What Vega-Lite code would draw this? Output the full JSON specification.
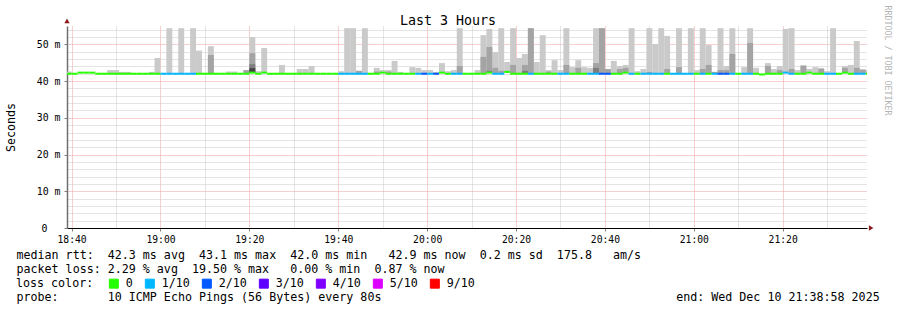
{
  "$schema": "https://vega.github.io/schema/vega-lite/v6.json",
  "width": 800,
  "height": 202,
  "autosize": "none",
  "padding": {"left": 67, "top": 26, "right": 30, "bottom": 82},
  "background": "white",
  "title": {"text": "Last 3 Hours", "font": "DejaVu Sans Mono", "fontSize": 13.3, "fontWeight": "normal", "color": "black", "anchor": "middle", "frame": "group", "offset": 4, "dx": -19, "dy": 26},
  "config": {"view": {"stroke": null}, "font": "DejaVu Sans Mono"},
  "resolve": {"axis": {"y": "independent"}},
  "data": {"values": [
    {"t0":-1.333,"t1":0,"med":42,"loss":"0","hi":42.6},
    {"t0":0,"t1":1.333,"med":42,"loss":"0"},
    {"t0":1.333,"t1":2.667,"med":42.3,"loss":"0"},
    {"t0":2.667,"t1":4,"med":42.3,"loss":"0"},
    {"t0":4,"t1":5.333,"med":42.3,"loss":"0"},
    {"t0":5.333,"t1":6.667,"med":42,"loss":"0"},
    {"t0":6.667,"t1":8,"med":42,"loss":"0"},
    {"t0":8,"t1":9.333,"med":42,"loss":"0","hi":43},
    {"t0":9.333,"t1":10.667,"med":42,"loss":"0","hi":43},
    {"t0":10.667,"t1":12,"med":42,"loss":"0","hi":42.5},
    {"t0":12,"t1":13.333,"med":42,"loss":"0","hi":42.5},
    {"t0":13.333,"t1":14.667,"med":42,"loss":"0"},
    {"t0":14.667,"t1":16,"med":42,"loss":"0"},
    {"t0":16,"t1":17.333,"med":42,"loss":"0"},
    {"t0":17.333,"t1":18.667,"med":42,"loss":"0","hi":42.5},
    {"t0":18.667,"t1":20,"med":42,"loss":"0","hi":46.3},
    {"t0":20,"t1":21.333,"med":42,"loss":"1/10"},
    {"t0":21.333,"t1":22.667,"med":42,"loss":"1/10","hi":54.4},
    {"t0":22.667,"t1":24,"med":42,"loss":"1/10"},
    {"t0":24,"t1":25.333,"med":42,"loss":"1/10","hi":54.4},
    {"t0":25.333,"t1":26.667,"med":42,"loss":"1/10"},
    {"t0":26.667,"t1":28,"med":42,"loss":"1/10","hi":54.4},
    {"t0":28,"t1":29.333,"med":42,"loss":"0","hi":48.3},
    {"t0":29.333,"t1":30.667,"med":42,"loss":"0"},
    {"t0":30.667,"t1":32,"med":42,"loss":"0","hi":49.5,"mid":47.1},
    {"t0":32,"t1":33.333,"med":42,"loss":"0"},
    {"t0":33.333,"t1":34.667,"med":42,"loss":"0"},
    {"t0":34.667,"t1":36,"med":42,"loss":"0","hi":42.6},
    {"t0":36,"t1":37.333,"med":42,"loss":"0","hi":42.6},
    {"t0":37.333,"t1":38.667,"med":42,"loss":"0"},
    {"t0":38.667,"t1":40,"med":42,"loss":"0","hi":43,"mid":43},
    {"t0":40,"t1":41.333,"med":42.3,"loss":"0","hi":52,"mid":47.6,"dk":44.6,"dk2":43.5},
    {"t0":41.333,"t1":42.667,"med":42,"loss":"0","hi":42.7},
    {"t0":42.667,"t1":44,"med":42.3,"loss":"0","hi":49},
    {"t0":44,"t1":45.333,"med":42,"loss":"0"},
    {"t0":45.333,"t1":46.667,"med":42,"loss":"0"},
    {"t0":46.667,"t1":48,"med":42,"loss":"0","hi":44.4},
    {"t0":48,"t1":49.333,"med":42,"loss":"0"},
    {"t0":49.333,"t1":50.667,"med":42,"loss":"0"},
    {"t0":50.667,"t1":52,"med":42,"loss":"0","hi":43.3},
    {"t0":52,"t1":53.333,"med":42,"loss":"0","hi":43.3},
    {"t0":53.333,"t1":54.667,"med":42,"loss":"0","hi":44.1},
    {"t0":54.667,"t1":56,"med":42,"loss":"0"},
    {"t0":56,"t1":57.333,"med":42,"loss":"0"},
    {"t0":57.333,"t1":58.667,"med":42,"loss":"0"},
    {"t0":58.667,"t1":60,"med":42,"loss":"0"},
    {"t0":60,"t1":61.333,"med":42,"loss":"1/10","hi":42.7},
    {"t0":61.333,"t1":62.667,"med":42,"loss":"1/10","hi":54.4},
    {"t0":62.667,"t1":64,"med":42,"loss":"1/10","hi":54.4},
    {"t0":64,"t1":65.333,"med":42,"loss":"1/10","hi":42.8,"mid":42.8},
    {"t0":65.333,"t1":66.667,"med":42,"loss":"1/10","hi":54.4},
    {"t0":66.667,"t1":68,"med":42,"loss":"0"},
    {"t0":68,"t1":69.333,"med":42,"loss":"0","hi":43.6,"mid":42.6},
    {"t0":69.333,"t1":70.667,"med":42.3,"loss":"0","hi":43},
    {"t0":70.667,"t1":72,"med":42,"loss":"0","hi":43,"mid":42.6},
    {"t0":72,"t1":73.333,"med":42,"loss":"0","hi":45.5},
    {"t0":73.333,"t1":74.667,"med":42,"loss":"0","hi":42.5},
    {"t0":74.667,"t1":76,"med":42,"loss":"0"},
    {"t0":76,"t1":77.333,"med":42,"loss":"0","hi":43.8},
    {"t0":77.333,"t1":78.667,"med":42,"loss":"1/10","hi":43.6},
    {"t0":78.667,"t1":80,"med":42,"loss":"2/10","hi":43},
    {"t0":80,"t1":81.333,"med":42,"loss":"1/10","hi":43},
    {"t0":81.333,"t1":82.667,"med":42,"loss":"2/10","hi":42.5},
    {"t0":82.667,"t1":84,"med":42.3,"loss":"0","hi":44.9},
    {"t0":84,"t1":85.333,"med":42,"loss":"0","hi":42.7},
    {"t0":85.333,"t1":86.667,"med":42,"loss":"1/10","hi":43},
    {"t0":86.667,"t1":88,"med":42,"loss":"1/10","hi":54.4,"mid":44.1},
    {"t0":88,"t1":89.333,"med":42,"loss":"0"},
    {"t0":89.333,"t1":90.667,"med":42,"loss":"0"},
    {"t0":90.667,"t1":92,"med":42,"loss":"0","hi":43},
    {"t0":92,"t1":93.333,"med":42,"loss":"0","hi":52.5,"mid":46.6},
    {"t0":93.333,"t1":94.667,"med":42.3,"loss":"0","hi":54.2,"mid":49.3,"dk":42.8},
    {"t0":94.667,"t1":96,"med":42,"loss":"1/10","hi":47.9,"mid":43.6},
    {"t0":96,"t1":97.333,"med":42,"loss":"1/10","hi":54.4,"mid":42.8},
    {"t0":97.333,"t1":98.667,"med":42.5,"loss":"0","hi":45.2},
    {"t0":98.667,"t1":100,"med":42,"loss":"0","hi":54.4,"mid":44.4},
    {"t0":100,"t1":101.333,"med":42,"loss":"0","hi":46.3},
    {"t0":101.333,"t1":102.667,"med":42,"loss":"0","hi":47.4,"mid":44.4,"dk":42.8},
    {"t0":102.667,"t1":104,"med":42,"loss":"1/10","hi":54.4,"mid":54.4},
    {"t0":104,"t1":105.333,"med":42,"loss":"0","hi":45.2},
    {"t0":105.333,"t1":106.667,"med":42,"loss":"0","hi":52.5},
    {"t0":106.667,"t1":108,"med":42,"loss":"0","hi":43,"mid":42.6},
    {"t0":108,"t1":109.333,"med":42,"loss":"0","hi":45.7},
    {"t0":109.333,"t1":110.667,"med":42,"loss":"1/10","hi":43},
    {"t0":110.667,"t1":112,"med":42,"loss":"1/10","hi":54.4,"mid":44.4},
    {"t0":112,"t1":113.333,"med":42,"loss":"0","hi":43.8},
    {"t0":113.333,"t1":114.667,"med":42,"loss":"0","hi":45.7,"mid":43.6},
    {"t0":114.667,"t1":116,"med":42,"loss":"0","hi":43.8},
    {"t0":116,"t1":117.333,"med":42,"loss":"1/10","hi":43.6},
    {"t0":117.333,"t1":118.667,"med":42,"loss":"1/10","hi":54.4,"mid":44.9,"dk":43.6},
    {"t0":118.667,"t1":120,"med":42,"loss":"2/10","hi":54.4,"mid":54.4},
    {"t0":120,"t1":121.333,"med":42,"loss":"2/10","hi":43.3,"mid":43.3},
    {"t0":121.333,"t1":122.667,"med":42,"loss":"0","hi":45.5},
    {"t0":122.667,"t1":124,"med":42,"loss":"0","hi":44.1,"mid":43.3},
    {"t0":124,"t1":125.333,"med":42.3,"loss":"0","hi":44.4,"mid":43.6},
    {"t0":125.333,"t1":126.667,"med":42,"loss":"1/10","hi":54.4},
    {"t0":126.667,"t1":128,"med":42,"loss":"0","hi":42.7},
    {"t0":128,"t1":129.333,"med":42,"loss":"1/10","hi":43.3},
    {"t0":129.333,"t1":130.667,"med":42,"loss":"1/10","hi":54.4,"mid":42.5},
    {"t0":130.667,"t1":132,"med":42,"loss":"1/10","hi":50.1},
    {"t0":132,"t1":133.333,"med":42,"loss":"1/10","hi":54.4},
    {"t0":133.333,"t1":134.667,"med":42,"loss":"0","hi":52.3,"mid":43.3},
    {"t0":134.667,"t1":136,"med":42,"loss":"1/10"},
    {"t0":136,"t1":137.333,"med":42,"loss":"1/10","hi":54.4,"mid":43.8},
    {"t0":137.333,"t1":138.667,"med":42,"loss":"1/10"},
    {"t0":138.667,"t1":140,"med":42,"loss":"1/10","hi":54.4},
    {"t0":140,"t1":141.333,"med":42,"loss":"0","hi":43},
    {"t0":141.333,"t1":142.667,"med":42,"loss":"1/10","hi":54.4,"mid":43.3},
    {"t0":142.667,"t1":144,"med":42,"loss":"0","hi":49.8,"mid":44.4},
    {"t0":144,"t1":145.333,"med":42,"loss":"1/10","hi":42.5,"mid":42.5},
    {"t0":145.333,"t1":146.667,"med":42,"loss":"2/10","hi":54.4,"mid":43},
    {"t0":146.667,"t1":148,"med":42,"loss":"2/10","hi":44.1,"mid":43},
    {"t0":148,"t1":149.333,"med":42,"loss":"1/10","hi":54.4,"mid":47.4},
    {"t0":149.333,"t1":150.667,"med":42,"loss":"0"},
    {"t0":150.667,"t1":152,"med":42,"loss":"1/10","hi":43.8},
    {"t0":152,"t1":153.333,"med":42,"loss":"1/10","hi":54.4,"mid":50.4},
    {"t0":153.333,"t1":154.667,"med":42,"loss":"0","hi":43.6},
    {"t0":154.667,"t1":156,"med":41.8,"loss":"0"},
    {"t0":156,"t1":157.333,"med":42,"loss":"0","hi":44.9,"mid":44.1},
    {"t0":157.333,"t1":158.667,"med":42,"loss":"0","hi":43.3},
    {"t0":158.667,"t1":160,"med":42,"loss":"0","hi":44.1,"mid":43},
    {"t0":160,"t1":161.333,"med":42.3,"loss":"1/10","hi":54.2},
    {"t0":161.333,"t1":162.667,"med":42,"loss":"1/10","hi":54.4,"mid":43.3},
    {"t0":162.667,"t1":164,"med":42,"loss":"0","hi":43},
    {"t0":164,"t1":165.333,"med":42,"loss":"0","hi":44.4,"mid":44.1},
    {"t0":165.333,"t1":166.667,"med":42.3,"loss":"0","hi":43.3},
    {"t0":166.667,"t1":168,"med":42,"loss":"0","hi":43.8},
    {"t0":168,"t1":169.333,"med":42,"loss":"0","hi":43.6,"mid":43.3},
    {"t0":169.333,"t1":170.667,"med":42,"loss":"1/10","hi":42.7},
    {"t0":170.667,"t1":172,"med":42,"loss":"1/10","hi":54.4},
    {"t0":172,"t1":173.333,"med":42,"loss":"0"},
    {"t0":173.333,"t1":174.667,"med":42.3,"loss":"0","hi":44.1,"mid":43.6},
    {"t0":174.667,"t1":176,"med":42,"loss":"0","hi":44.4},
    {"t0":176,"t1":177.333,"med":42,"loss":"1/10","hi":50.9,"mid":43.6},
    {"t0":177.333,"t1":178.667,"med":42,"loss":"1/10","hi":43.3,"mid":43},
    {"t0":178.667,"t1":180,"med":42,"loss":"0","hi":43}
  ]},
  "layer": [
    {
      "transform": [{"filter": "isValid(datum.hi)"}],
      "mark": {"type": "rect", "color": "#cacaca", "clip": true},
      "encoding": {
        "x": {"field": "t0", "type": "quantitative",
          "scale": {"domain": [-1.033, 178.967], "nice": false, "zero": false},
          "axis": {
            "orient": "bottom",
            "values": [0,5,10,15,20,25,30,35,40,45,50,55,60,65,70,75,80,85,90,95,100,105,110,115,120,125,130,135,140,145,150,155,160,165,170,175],
            "labelExpr": "datum.value == 0 ? '18:40' : datum.value == 20 ? '19:00' : datum.value == 40 ? '19:20' : datum.value == 60 ? '19:40' : datum.value == 80 ? '20:00' : datum.value == 100 ? '20:20' : datum.value == 120 ? '20:40' : datum.value == 140 ? '21:00' : datum.value == 160 ? '21:20' : ''",
            "labelFont": "DejaVu Sans Mono", "labelFontSize": 9.7, "labelColor": "black", "labelPadding": 3, "labelOverlap": false,
            "grid": true, "gridDash": [1, 1], "gridWidth": 1,
            "gridColor": {"condition": {"test": "datum.value % 20 === 0", "value": "#f2a0a0"}, "value": "#c8c8c8"},
            "domainColor": "black", "domainWidth": 1,
            "tickSize": 3,
            "tickColor": {"condition": {"test": "datum.value % 20 === 0", "value": "#808080"}, "value": "rgba(0,0,0,0)"},
            "title": [
              "median\u00a0rtt:\u00a0\u00a042.3\u00a0ms\u00a0avg\u00a0\u00a043.1\u00a0ms\u00a0max\u00a0\u00a042.0\u00a0ms\u00a0min\u00a0\u00a0\u00a042.9\u00a0ms\u00a0now\u00a0\u00a00.2\u00a0ms\u00a0sd\u00a0\u00a0175.8\u00a0\u00a0\u00a0am/s",
              "packet\u00a0loss:\u00a02.29\u00a0%\u00a0avg\u00a0\u00a019.50\u00a0%\u00a0max\u00a0\u00a0\u00a00.00\u00a0%\u00a0min\u00a0\u00a00.87\u00a0%\u00a0now",
              "\u200b",
              "probe:\u00a0\u00a0\u00a0\u00a0\u00a0\u00a0\u00a010\u00a0ICMP\u00a0Echo\u00a0Pings\u00a0(56\u00a0Bytes)\u00a0every\u00a080s\u00a0\u00a0\u00a0\u00a0\u00a0\u00a0\u00a0\u00a0\u00a0\u00a0\u00a0\u00a0\u00a0\u00a0\u00a0\u00a0\u00a0\u00a0\u00a0\u00a0\u00a0\u00a0\u00a0\u00a0\u00a0\u00a0\u00a0\u00a0\u00a0\u00a0\u00a0\u00a0\u00a0\u00a0\u00a0\u00a0\u00a0\u00a0\u00a0\u00a0\u00a0\u00a0end:\u00a0Wed\u00a0Dec\u00a010\u00a021:38:58\u00a02025"
            ],
            "titleFont": "DejaVu Sans Mono", "titleFontSize": 11.66, "titleFontWeight": "normal", "titleColor": "black",
            "titleAlign": "left", "titleBaseline": "alphabetic", "titleLineHeight": 14,
            "titleX": -51, "titleY": 30
          }
        },
        "x2": {"field": "t1"},
        "y": {"field": "med", "type": "quantitative",
          "scale": {"domain": [0, 55], "nice": false, "zero": true},
          "axis": {
            "values": [0,2,4,6,8,10,12,14,16,18,20,22,24,26,28,30,32,34,36,38,40,42,44,46,48,50,52,54],
            "labelExpr": "datum.value % 10 === 0 ? (datum.value === 0 ? '0' : datum.value + ' m') : ''",
            "labelFont": "DejaVu Sans Mono", "labelFontSize": 9.9, "labelColor": "black", "labelOverlap": false, "labelBound": false,
            "labelPadding": {"condition": {"test": "datum.value === 0", "value": 17}, "value": 4},
            "grid": true, "gridDash": [1, 1], "gridWidth": 1,
            "gridColor": {"condition": {"test": "datum.value % 10 === 0", "value": "#f2a0a0"}, "value": "#c8c8c8"},
            "domainColor": "#707070", "domainWidth": 1.5,
            "tickSize": 3,
            "tickColor": {"condition": {"test": "datum.value % 10 === 0", "value": "#808080"}, "value": "rgba(0,0,0,0)"},
            "title": "Seconds", "titleFont": "DejaVu Sans Mono", "titleFontSize": 11.66, "titleFontWeight": "normal", "titleColor": "black",
            "titleAngle": 270, "titleAlign": "center", "titleBaseline": "middle", "titleX": -56, "titleY": 101
          }
        },
        "y2": {"field": "hi"}
      }
    },
    {
      "transform": [{"filter": "isValid(datum.mid)"}],
      "mark": {"type": "rect", "color": "#a4a4a4", "clip": true},
      "encoding": {
        "x": {"field": "t0", "type": "quantitative", "scale": {"domain": [-1.033, 178.967], "nice": false, "zero": false}},
        "x2": {"field": "t1"},
        "y": {"field": "med", "type": "quantitative", "scale": {"domain": [0, 55], "nice": false}, "axis": null},
        "y2": {"field": "mid"}
      }
    },
    {
      "transform": [{"filter": "isValid(datum.dk)"}],
      "mark": {"type": "rect", "color": "#7e7e7e", "clip": true},
      "encoding": {
        "x": {"field": "t0", "type": "quantitative", "scale": {"domain": [-1.033, 178.967], "nice": false, "zero": false}},
        "x2": {"field": "t1"},
        "y": {"field": "med", "type": "quantitative", "scale": {"domain": [0, 55], "nice": false}, "axis": null},
        "y2": {"field": "dk"}
      }
    },
    {
      "transform": [{"filter": "isValid(datum.dk2)"}],
      "mark": {"type": "rect", "color": "#444444", "clip": true},
      "encoding": {
        "x": {"field": "t0", "type": "quantitative", "scale": {"domain": [-1.033, 178.967], "nice": false, "zero": false}},
        "x2": {"field": "t1"},
        "y": {"field": "med", "type": "quantitative", "scale": {"domain": [0, 55], "nice": false}, "axis": null},
        "y2": {"field": "dk2"}
      }
    },
    {
      "mark": {"type": "rule", "strokeWidth": 2, "clip": true},
      "encoding": {
        "x": {"field": "t0", "type": "quantitative", "scale": {"domain": [-1.033, 178.967], "nice": false, "zero": false}},
        "x2": {"field": "t1"},
        "y": {"field": "med", "type": "quantitative", "scale": {"domain": [0, 55], "nice": false},
          "axis": {"orient": "right", "domain": false, "ticks": false, "labels": false, "grid": false,
            "title": "RRDTOOL / TOBI OETIKER", "titleFont": "DejaVu Sans Mono", "titleFontSize": 8.3, "titleFontWeight": "normal", "titleColor": "#b4b4b4",
            "titleAngle": 90, "titleAlign": "center", "titleBaseline": "middle", "titleX": 19, "titleY": 34}},
        "color": {"field": "loss", "type": "nominal",
          "scale": {"domain": ["0", "1/10", "2/10", "3/10", "4/10", "5/10", "9/10"], "range": ["#26ff00", "#00b8ff", "#0059ff", "#5e00ff", "#7e00ff", "#dd00ff", "#ff0000"]},
          "legend": {
            "orient": "none", "legendX": -51, "legendY": 251.5, "direction": "horizontal",
            "title": "loss color:", "titleOrient": "left", "titleFont": "DejaVu Sans Mono", "titleFontSize": 11.66, "titleFontWeight": "normal", "titleColor": "black", "titlePadding": 14,
            "labelFont": "DejaVu Sans Mono", "labelFontSize": 11.66, "labelColor": "black", "labelOffset": 6,
            "symbolType": "square", "symbolSize": 81, "columnPadding": 10,
            "symbolStrokeColor": "black", "symbolStrokeWidth": 1,
            "encode": {"symbols": {"update": {"fill": {"scale": "color", "field": "value"}, "stroke": {"value": "black"}, "strokeWidth": {"value": 1}, "opacity": {"value": 1}}}}
          }
        }
      }
    },
    {
      "data": {"values": [{"t0": -1.033, "med": 56.4, "shape": "triangle-up"}, {"t0": 179.9, "med": 0, "shape": "triangle-right"}]},
      "mark": {"type": "point", "filled": true, "color": "#8b1a1a", "size": 28, "opacity": 1},
      "encoding": {
        "x": {"field": "t0", "type": "quantitative", "scale": {"domain": [-1.033, 178.967], "nice": false, "zero": false}},
        "y": {"field": "med", "type": "quantitative", "scale": {"domain": [0, 55], "nice": false}, "axis": null},
        "shape": {"field": "shape", "type": "nominal", "scale": null}
      }
    }
  ]
}
